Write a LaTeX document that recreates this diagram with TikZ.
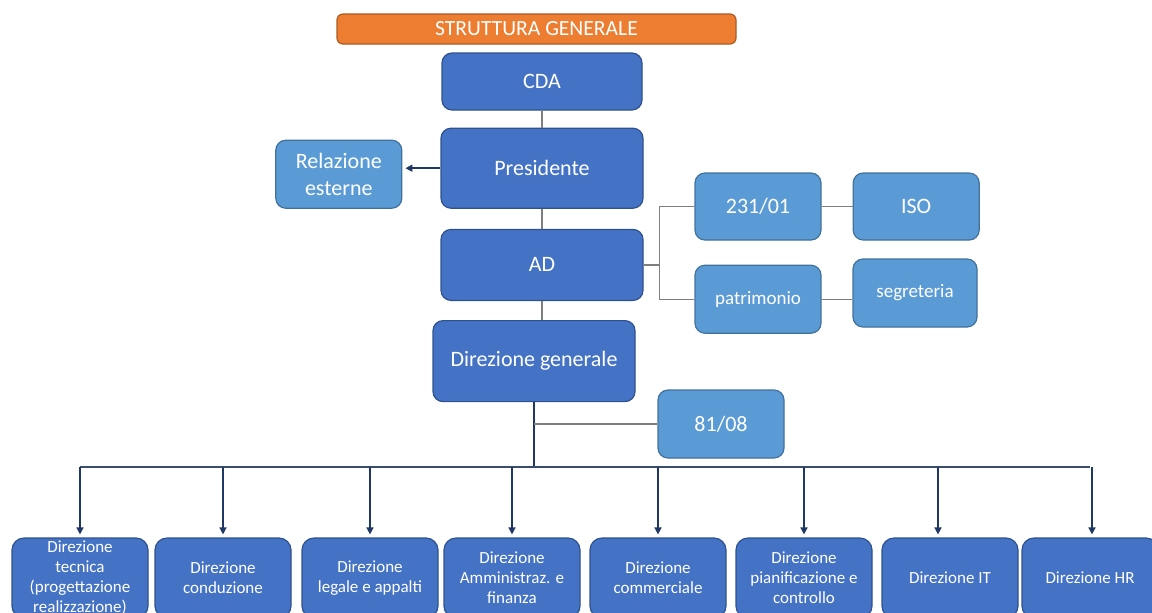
\documentclass[tikz,border=0pt]{standalone}
\usepackage{fontspec}
\setmainfont{Carlito}
\usetikzlibrary{positioning,arrows.meta,calc}

\definecolor{boxdark}{HTML}{4472C4}
\definecolor{edgedark}{HTML}{2F528F}
\definecolor{boxlight}{HTML}{5B9BD5}
\definecolor{edgelight}{HTML}{41719C}
\definecolor{titleorange}{HTML}{ED7D31}
\definecolor{titleedge}{HTML}{AE5A21}
\definecolor{linkgray}{HTML}{7F7F7F}
\definecolor{busblue}{HTML}{1F3864}
\definecolor{railblue}{HTML}{3A4D6E}

\tikzset{
  dark/.style={draw=edgedark, fill=boxdark, rounded corners=5pt, text=white, align=center, inner sep=1pt, line width=0.6pt},
  light/.style={dark, draw=edgelight, fill=boxlight},
  unit/.style={dark, rounded corners=6pt, minimum width=68pt, minimum height=40pt, font=\fontsize{8.5}{10}\selectfont},
  link/.style={draw=linkgray, line width=0.6pt},
  bus/.style={draw=busblue, line width=0.8pt},
  arr/.style={bus, -{Triangle[length=3.5pt,width=3.5pt]}, shorten >=1.5pt}
}

\begin{document}
\begin{tikzpicture}[x=0.5pt, y=-0.5pt]

\useasboundingbox (0,0) rectangle (1152,612);
\clip (0,0) rectangle (1152,612);

%nodes
\node[dark, fill=titleorange, draw=titleedge, rounded corners=3pt, minimum width=199.5pt, minimum height=15pt, font=\fontsize{10.8}{12}\selectfont](title) at (536.5,29){STRUTTURA GENERALE};

\node[dark, minimum width=100pt, minimum height=28.5pt, font=\fontsize{11}{13}\selectfont](cda) at (542,81.5){CDA};
\node[dark, minimum width=101pt, minimum height=40pt, font=\fontsize{11}{13}\selectfont, below=8.5pt of cda](pres){Presidente};
\node[dark, minimum width=101pt, minimum height=35.5pt, font=\fontsize{11}{13}\selectfont, below=10pt of pres](ad){AD};
\node[dark, minimum width=101pt, minimum height=40.5pt, font=\fontsize{11}{13}\selectfont, below=9.5pt of ad, xshift=-4pt](dg){Direzione generale};

\node[light, minimum width=63pt, minimum height=34pt, font=\fontsize{11}{13.5}\selectfont, anchor=south east](rel) at ([xshift=-19pt]pres.south west){Relazione\\esterne};

\node[light, minimum width=63pt, minimum height=33.5pt, font=\fontsize{11}{13}\selectfont](n231) at (758,206.5){231/01};
\node[light, minimum width=63pt, minimum height=33.5pt, font=\fontsize{11}{13}\selectfont, right=15.5pt of n231](iso){ISO};
\node[light, minimum width=63pt, minimum height=34pt, font=\fontsize{9.5}{11}\selectfont, below=12pt of n231](patr){patrimonio};
\node[light, minimum width=62pt, minimum height=34pt, font=\fontsize{9.5}{11}\selectfont](segr) at (915,293){segreteria};
\node[light, minimum width=63pt, minimum height=34pt, font=\fontsize{11}{13}\selectfont](n81) at (721,424){81/08};

%direzioni
\node[unit](d1) at (80,578){Direzione\\tecnica\\(progettazione\\realizzazione)};
\node[unit](d2) at (223,578){Direzione\\conduzione};
\node[unit](d3) at (370,578){Direzione\\legale e appalti};
\node[unit](d4) at (512,578){Direzione\\Amministraz. e\\finanza};
\node[unit](d5) at (658,578){Direzione\\commerciale};
\node[unit](d6) at (804,578){Direzione\\pianificazione e\\controllo};
\node[unit](d7) at (950,578){Direzione IT};
\node[unit](d8) at (1090,578){Direzione HR};

%lines
\coordinate (fork) at ([xshift=8pt]ad.east);
\coordinate (hub) at (dg.south |- 0,467);

\draw[link] (cda) -- (pres);
\draw[arr] (pres.west) -- (pres.west -| rel.east);
\draw[link] (pres) -- (ad);
\draw[link] (ad.south) -- (ad.south |- dg.north);

\draw[link] (ad.east) -- (fork);
\draw[link] (n231.west) -| (fork) |- (patr.west);
\draw[link] (n231) -- (iso);
\draw[link] (patr.east) -- (patr.east -| segr.west);

\draw[bus] (dg.south) -- (hub);
\draw[link] (dg.south |- n81.west) -- (n81.west);
\draw[bus, draw=railblue, line width=0.7pt] (d1.north |- hub) -- (d8.north |- hub);

\draw[arr] (d1.north |- hub) -- (d1.north);
\draw[arr] (d2.north |- hub) -- (d2.north);
\draw[arr] (d3.north |- hub) -- (d3.north);
\draw[arr] (d4.north |- hub) -- (d4.north);
\draw[arr] (d5.north |- hub) -- (d5.north);
\draw[arr] (d6.north |- hub) -- (d6.north);
\draw[arr] ([xshift=-6pt]d7.north |- hub) -- ([xshift=-6pt]d7.north);
\draw[arr] ([xshift=1pt]d8.north |- hub) -- ([xshift=1pt]d8.north);

\end{tikzpicture}
\end{document}
